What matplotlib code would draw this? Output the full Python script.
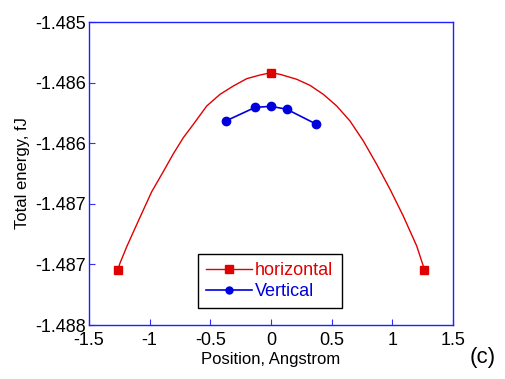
import matplotlib
matplotlib.use("Agg")
import matplotlib.pyplot as plt

plt.rcParams['font.family'] = ['Liberation Sans', 'DejaVu Sans']

# red smooth curve (horizontal)
curve_x = [-1.263, -1.245, -1.189, -1.121, -1.052, -0.983, -0.888, -0.805, -0.723, -0.640,
           -0.530, -0.420, -0.311, -0.200, -0.091, 0.0, 0.074, 0.212, 0.321, 0.431, 0.542,
           0.651, 0.761, 0.871, 0.981, 1.090, 1.201, 1.255, 1.261]
curve_y = [-1.487455, -1.487389, -1.487225, -1.487043, -1.486861, -1.486680, -1.486482,
           -1.486305, -1.486146, -1.486013, -1.485832, -1.485716, -1.485634, -1.485561,
           -1.485525, -1.485502, -1.485518, -1.485567, -1.485627, -1.485716, -1.485832,
           -1.485980, -1.486178, -1.486409, -1.486656, -1.486921, -1.487218, -1.487416,
           -1.487455]
# horizontal markers
hor_x = [-1.263, 0.0, 1.261]
hor_y = [-1.487455, -1.485502, -1.487455]
# vertical series
ver_x = [-0.373, -0.13, 0.0, 0.13, 0.371]
ver_y = [-1.485980, -1.485845, -1.485835, -1.485864, -1.486010]

yticks = [-1.4850, -1.4856, -1.4862, -1.4868, -1.4874, -1.4880]
ytick_labels = ['-1.485', '-1.486', '-1.486', '-1.487', '-1.487', '-1.488']
xticks = [-1.5, -1, -0.5, 0, 0.5, 1, 1.5]
xtick_labels = ['-1.5', '-1', '-0.5', '0', '0.5', '1', '1.5']

fig = plt.figure(figsize=(5.05, 3.79), dpi=100)
ax = fig.add_axes([89/505, 1-325/379, (453-89)/505, (325-22)/379])

red = '#e00000'
blue = '#0000dd'
ax.plot(curve_x, curve_y, color=red, lw=1.0)
ax.plot(hor_x, hor_y, 's', color=red, ms=6, mec=red)
ax.plot(ver_x, ver_y, '-o', color=blue, lw=1.2, ms=6)

# legend proxies
h1, = ax.plot([], [], '-s', color=red, lw=1.0, ms=6)
h2, = ax.plot([], [], '-o', color=blue, lw=1.2, ms=5)
leg = ax.legend([h1, h2], ['horizontal', 'Vertical'], loc='lower center',
                bbox_to_anchor=(0.497, 0.056), fontsize=13, fancybox=False,
                edgecolor='black', framealpha=1, handlelength=2.5, handletextpad=0.2,
                borderpad=0.45, labelspacing=0.2, borderaxespad=0)
leg.get_frame().set_linewidth(1.0)
for t, c in zip(leg.get_texts(), [red, blue]):
    t.set_color(c)

ax.set_xlim(-1.5, 1.5)
ax.set_ylim(-1.488, -1.485)
ax.set_xticks(xticks)
ax.set_xticklabels(xtick_labels)
ax.set_yticks(yticks)
ax.set_yticklabels(ytick_labels)
ax.tick_params(direction='in', color='#3030ff', labelsize=13, length=4)
ax.tick_params(axis='x', pad=5)
ax.tick_params(axis='y', pad=2)
for s in ax.spines.values():
    s.set_color('#2020ff')
    s.set_linewidth(1.0)

ax.set_xlabel('Position, Angstrom', fontsize=12, labelpad=2)
ax.set_ylabel('Total energy, fJ', fontsize=12, labelpad=4)
fig.text(470/505, 1-358/379, '(c)', fontsize=16, va='center', ha='left')

fig.savefig('out.png', dpi=100)
